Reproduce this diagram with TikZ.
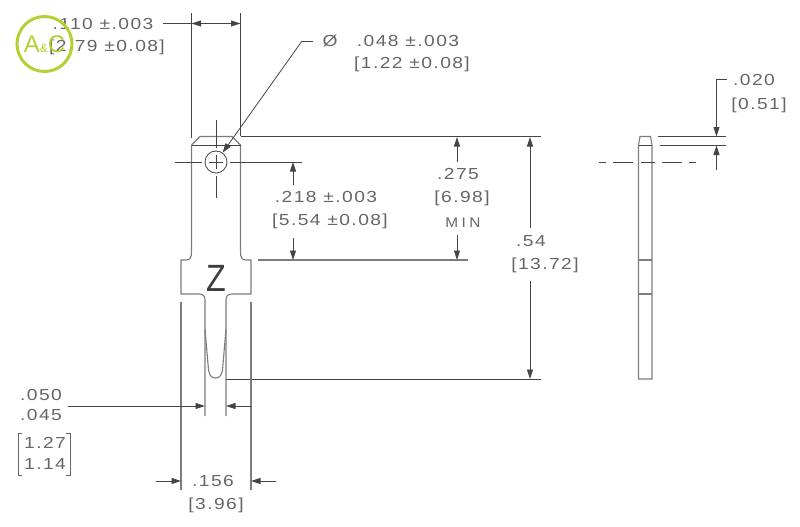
\documentclass[tikz,border=0pt]{standalone}
\usepackage{fontspec}
\setmainfont[FakeStretch=1.2,LetterSpace=9]{Liberation Sans}
\newfontfamily\plainfont{Liberation Sans}
\newfontfamily\minfont[FakeStretch=1.1,LetterSpace=25]{Liberation Sans}
\usetikzlibrary{arrows.meta}
\definecolor{ink}{HTML}{444444}
\definecolor{txt}{HTML}{666666}
\definecolor{logo}{HTML}{B5CF35}
\tikzset{
  x=1pt,y=-1pt,
  ln/.style={draw=ink!70,line width=1.1pt},
  thin line/.style={draw=ink,line width=0.8pt},
  dim/.style={draw=ink,line width=0.8pt,-{Triangle[length=9.5pt,width=6pt]}},
  lab/.style={text=txt,inner sep=0pt,font=\fontsize{16}{16}\selectfont},
  brk/.style={draw=txt,line width=0.8pt},
}
\begin{document}
\begin{tikzpicture}
\useasboundingbox (0,0) rectangle (800,527);
% coordinates
\coordinate (tl) at (191.5,13); \coordinate (tr) at (240.5,13);
\coordinate (holec) at (216,162);
\coordinate (fl1) at (181,302); \coordinate (fl2) at (181,490);
\coordinate (fr1) at (251,302); \coordinate (fr2) at (251,490);
% part outline
\draw[ln] (191.5,145) -- (200,136.5) -- (232,136.5) -- (240.5,145) -- (240.5,252)
  .. controls (240.5,258) and (242,260) .. (246,260) -- (251,260) -- (251,294) -- (232,294)
  .. controls (228,294) and (226,296) .. (226,300) -- (226,416);
\draw[thin line] (191.5,145) -- (240.5,145);
\draw[ln] (191.5,145) -- (191.5,252) .. controls (191.5,258) and (190,260) .. (186,260) -- (181,260) -- (181,294) -- (199,294)
  .. controls (203,294) and (205,296) .. (205,300) -- (205,416);
\draw[ln] (205,329) -- (208.5,370) .. controls (209.5,376) and (212,378) .. (215.5,378) .. controls (219,378) and (221.5,376) .. (222.5,370) -- (226,329);
% extension lines
\draw[thin line] (tl) -- (191.5,138);
\draw[thin line] (tr) -- (240.5,136);
\draw[thin line] (240.5,136.5) -- (541,136.5);
\draw[thin line] (226,379) -- (541,379);
\draw[ln] (258,260) -- (468,260);
\draw[ln] (fl1) -- (fl2);
\draw[ln] (fr1) -- (fr2);
% hole
\node[draw=ink,line width=0.8pt,circle,minimum size=22pt,inner sep=0pt] (hole) at (holec) {};
\draw[thin line] (175,162) -- (202,162);
\draw[thin line] (209,162) -- (223,162);
\draw[thin line] (230,162) -- (302,162);
\draw[thin line] (216,120) -- (216,148);
\draw[thin line] (216,155) -- (216,169);
\draw[thin line] (216,176) -- (216,198);
% top width dim
\coordinate (w0) at (163,23.5); \coordinate (w1) at (191.5,23.5); \coordinate (w2) at (240.5,23.5);
\draw[thin line] (w0) -- (w1);
\draw[dim] (w1) -- (w2);
\draw[dim] (w2) -- (w1);
% hole leader
\coordinate (hs) at (313,41); \coordinate (hl) at (302,41);
\draw[thin line] (hs) -- (hl);
\draw[dim] (hl) -- (hole);
% dims
\draw[dim] (293,185) -- (293,162);
\draw[dim] (293,238) -- (293,260);
\draw[dim] (457,162) -- (457,137);
\draw[dim] (457,235) -- (457,260);
\draw[dim] (530,228) -- (530,137);
\draw[dim] (530,281) -- (530,379);
% tine dim
\draw[dim] (68,406) -- (205,406);
\draw[dim] (251,406) -- (226,406);
% overall width
\draw[dim] (156,481) -- (181,481);
\draw[dim] (276,481) -- (251,481);
% side view
\draw[ln] (638.5,145) -- (640,136.5) -- (650.5,136.5) -- (652,145) -- (652,379) -- (638.5,379) -- cycle;
\draw[thin line] (638.5,145) -- (652,145);
\draw[ln] (638.5,260) -- (652,260);
\draw[ln] (638.5,294) -- (652,294);
\draw[thin line] (658,136.5) -- (726,136.5);
\draw[thin line] (660,145.5) -- (726,145.5);
\draw[thin line] (599,162) -- (606,162) (613,162) -- (633,162) (641,162) -- (655,162) (662,162) -- (682,162) (689,162) -- (696,162);
\draw[thin line] (727,79) -- (716.5,79);
\draw[dim] (716.5,79) -- (716.5,136.5);
\draw[dim] (716.5,170) -- (716.5,145.5);
% labels
\node[lab] (a1) at (103,23.5) {.110 ±.003};
\node[lab] (a2) at (107,47.5) {[2.79 ±0.08]};
\node[lab] (b0) at (330,41) {Ø};
\node[lab] (b1) at (408,41) {.048 ±.003};
\node[lab] (b2) at (412,64) {[1.22 ±0.08]};
\node[lab] (c1) at (326,197) {.218 ±.003};
\node[lab] (c2) at (330,221) {[5.54 ±0.08]};
\node[lab] (d1) at (458,174) {.275};
\node[lab] (d2) at (462,198) {[6.98]};
\node[lab] (d3) at (463,223) {\minfont\fontsize{14}{14}\selectfont MIN};
\node[lab] (e1) at (531,241) {.54};
\node[lab] (e2) at (545,265) {[13.72]};
\node[lab] (f1) at (754,80) {.020};
\node[lab] (f2) at (759,105) {[0.51]};
\node[lab] (g1) at (41,395) {.050};
\node[lab] (g2) at (41,415) {.045};
\node[lab] (g3) at (45,443) {1.27};
\node[lab] (g4) at (45,464) {1.14};
\draw[brk] (22,433) -- (18,433) -- (18,475) -- (22,475);
\draw[brk] (66,433) -- (70,433) -- (70,475) -- (66,475);
\node[lab] (h1) at (213,481) {.156};
\node[lab] (h2) at (216,505) {[3.96]};
\node[inner sep=0pt,text=ink!90!black,xscale=0.85,font=\plainfont\fontsize{38}{38}\selectfont] (z) at (216,278) {Z};
% logo
\node[draw=logo,line width=3pt,circle,minimum size=55pt,inner sep=0pt] (lg) at (44.5,44) {};
\node[inner sep=0pt,text=logo,font=\plainfont\fontsize{24}{24}\selectfont] (lgt) at (44.5,44) {A{\fontsize{12}{12}\selectfont\&}C};
\end{tikzpicture}
\end{document}
